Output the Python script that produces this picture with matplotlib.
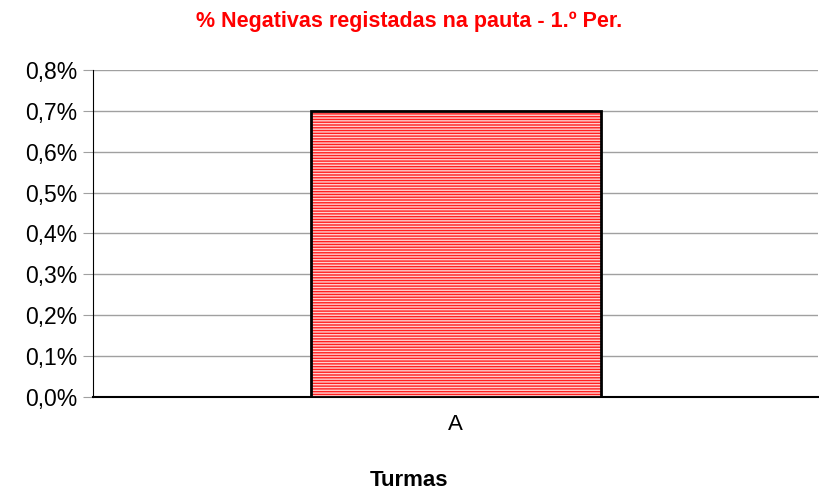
import matplotlib.pyplot as plt
from matplotlib.ticker import FuncFormatter

plt.rcParams['font.family'] = ['Liberation Sans', 'DejaVu Sans']
plt.rcParams['hatch.linewidth'] = 1.0

turmas = ['A']
negativas = [0.7]  # percent
yticks = [0.0, 0.1, 0.2, 0.3, 0.4, 0.5, 0.6, 0.7, 0.8]

fig = plt.figure(figsize=(8.19, 4.92), dpi=100)
ax = fig.add_axes([93 / 819, 1 - 397 / 492, 725 / 819, 327 / 492])

# stripes: red fill with white horizontal hatch, then black outline on top
ax.bar(turmas, negativas, width=0.4, color='#ff2020', edgecolor='#ffd0d0',
       hatch='------', linewidth=0, zorder=3)
ax.bar(turmas, negativas, width=0.4, fill=False, edgecolor='black',
       linewidth=2, zorder=4)

ax.set_xlim(-0.5, 0.5)
ax.set_ylim(0, 0.8)
ax.set_yticks(yticks)
ax.yaxis.set_major_formatter(FuncFormatter(lambda v, p: f"{v:.1f}%".replace('.', ',')))
ax.grid(axis='y', color='#a0a0a0', linewidth=1, zorder=0)
ax.tick_params(axis='y', length=7, color='#a0a0a0', labelsize=16.5, pad=4)
ax.tick_params(axis='x', length=0, labelsize=16, pad=12)

for s in ['top', 'right']:
    ax.spines[s].set_visible(False)
ax.spines['left'].set_color('black')
ax.spines['bottom'].set_color('black')
ax.spines['bottom'].set_linewidth(1.5)

fig.text(0.5, 1 - 21 / 492, '% Negativas registadas na pauta - 1.º Per.',
         color='#ff0000', fontsize=15.5, fontweight='bold', ha='center', va='center')
fig.text(0.5, 1 - 481 / 492, 'Turmas', fontsize=16, fontweight='bold',
         ha='center', va='center')

fig.savefig('out.png', dpi=100)
